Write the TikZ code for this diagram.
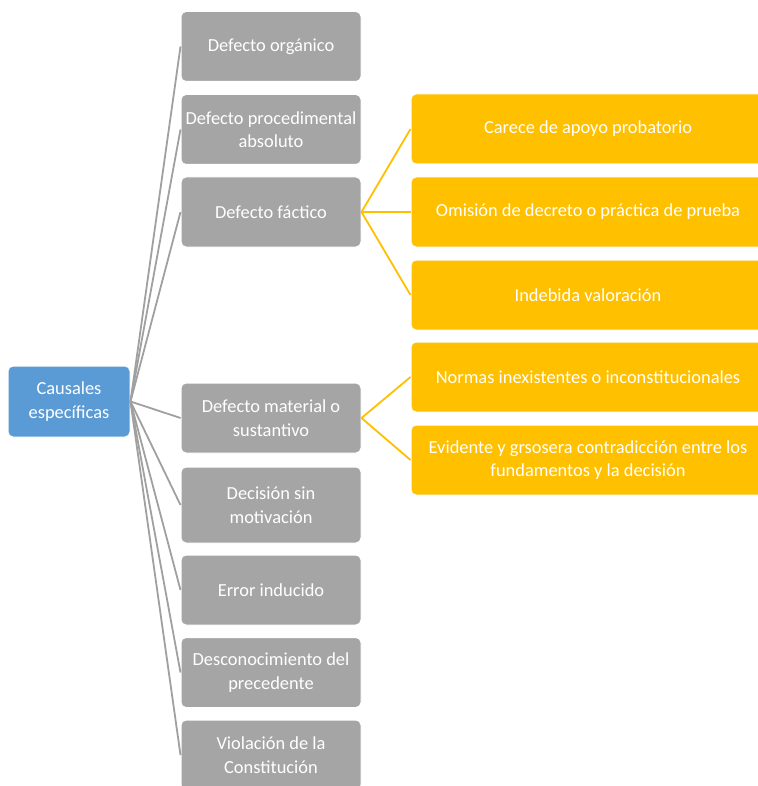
\documentclass[tikz,border=0pt]{standalone}
\usepackage{fontspec}
\setmainfont{Carlito}
\definecolor{causablue}{HTML}{5B9BD5}
\definecolor{defgray}{HTML}{A5A5A5}
\definecolor{subyellow}{HTML}{FFC000}
\definecolor{linegray}{HTML}{A0A0A0}
\begin{document}
\begin{tikzpicture}[x=1pt, y=-1pt, font=\fontsize{18.4}{23.5}\selectfont,
  box/.style={rectangle,rounded corners=5pt,draw=white,line width=1pt,text=white,align=center,inner sep=1pt},
  root node/.style={box,fill=causablue,minimum width=122pt,minimum height=71pt},
  main node/.style={box,fill=defgray,minimum width=180pt,minimum height=70pt},
  sub node/.style={box,fill=subyellow,minimum width=354pt,minimum height=70pt}]
\useasboundingbox (0,0) rectangle (757,786);
\begin{scope}
\node[root node] (c) at (69,401.5) {Causales\\específicas};
\node[main node] (d1) at (271,46.5) {Defecto orgánico};
\node[main node] (d2) at (271,129.5) {Defecto procedimental\\absoluto};
\node[main node] (d3) at (271,212) {Defecto fáctico};
\node[main node] (d4) at (271,418) {Defecto material o\\sustantivo};
\node[main node, minimum height=76pt] (d5) at (271,505) {Decisión sin\\motivación};
\node[main node] (d6) at (271,590) {Error inducido};
\node[main node] (d7) at (271,672.5) {Desconocimiento del\\precedente};
\node[main node] (d8) at (271,755) {Violación de la\\Constitución};
\node[sub node] (s1) at (588,129) {Carece de apoyo probatorio};
\node[sub node] (s2) at (588,212) {Omisión de decreto o práctica de prueba};
\node[sub node] (s3) at (588,295) {Indebida valoración};
\node[sub node] (s4) at (588,377) {Normas inexistentes o inconstitucionales};
\node[sub node] (s5) at (588,460) {Evidente y grsosera contradicción entre los\\fundamentos y la decisión};
\end{scope}
\begin{scope}[every edge/.style={draw=linegray,line width=1.8pt}]
\foreach \d in {d1,d2,d3,d4,d5,d6,d7,d8}
  \draw (c.east) edge (\d.west);
\end{scope}
\begin{scope}[every edge/.style={draw=subyellow,line width=1.8pt}]
\draw (d3.east) edge (s1.west);
\draw (d3.east) edge (s2.west);
\draw (d3.east) edge (s3.west);
\draw (d4.east) edge (s4.west);
\draw (d4.east) edge (s5.west);
\end{scope}
\end{tikzpicture}
\end{document}
